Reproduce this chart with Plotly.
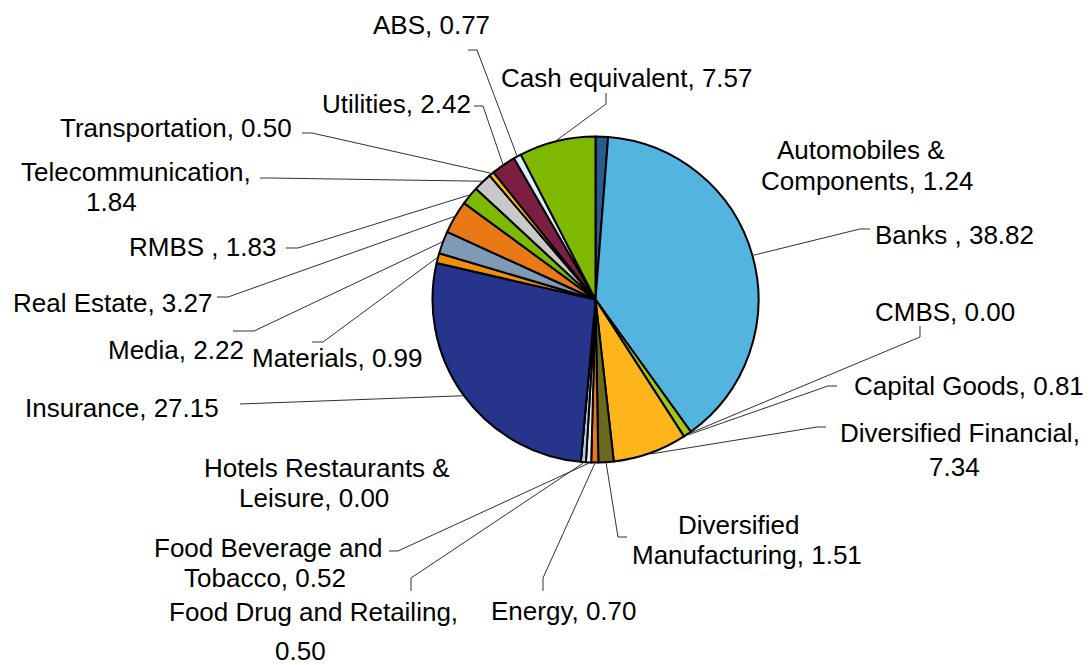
import math
import plotly.graph_objects as go

# ---------------- data ----------------
categories = [
    "Automobiles & Components", "Banks ", "CMBS", "Capital Goods",
    "Diversified Financial", "Diversified Manufacturing", "Energy",
    "Food Beverage and Tobacco", "Food Drug and Retailing",
    "Hotels Restaurants & Leisure", "Insurance", "Materials", "Media",
    "Real Estate", "RMBS ", "Telecommunication", "Transportation",
    "Utilities", "ABS", "Cash equivalent",
]
values = [1.24, 38.82, 0.00, 0.81, 7.34, 1.51, 0.70, 0.52, 0.50, 0.00,
          27.15, 0.99, 2.22, 3.27, 1.83, 1.84, 0.50, 2.42, 0.77, 7.57]

# ---------------- styling / layout ----------------
W, H = 1092, 665
CX, CY, R = 595.5, 299.5, 163.0
FONT = "Liberation Sans, Arial, sans-serif"
FS = 26

colors = ["#2A5B8E", "#52B4DF", "#A0A0A0", "#A3C614", "#FDB51B", "#6A6A1C",
          "#E8771B", "#EDEDED", "#A8D0E8", "#CCCCCC", "#27348B", "#F0900A",
          "#7F9AB4", "#E97817", "#7CB900", "#C9C9C9", "#FFC000", "#7B1E42",
          "#DDEEFA", "#7FB800"]

# words on the first line of a wrapped label (None = single line)
label_wrap = [2, None, None, None, 2, 1, None, 3, 4, 3,
              None, None, None, None, None, 1, None, None, None, None]
# centre of each text line (pixels)
label_pos = [
    [(861, 150), (867, 181)],
    [(954, 235)],
    [(945, 312)],
    [(969, 386)],
    [(960, 433), (954, 467)],
    [(738, 524.5), (747, 554.5)],
    [(564, 611)],
    [(268, 547.5), (265, 577.5)],
    [(313, 612), (300, 651)],
    [(327, 467.5), (314, 497.5)],
    [(122, 408)],
    [(337, 358)],
    [(176, 350)],
    [(113, 303)],
    [(202, 247)],
    [(136, 171.5), (111, 201.5)],
    [(176, 128)],
    [(396, 104)],
    [(431, 25)],
    [(627, 78)],
]
# leader line bends after leaving the slice (pixels); None = no leader
leader_bends = [
    None,
    [(860, 229), (870, 229)],
    [(920, 337), (920, 326)],
    [(828, 386), (837, 386)],
    [(817, 427), (826, 427)],
    [(618, 537), (627, 537)],
    [(543, 578), (543, 591)],
    [(398, 551), (389, 551)],
    [(411, 578), (411, 591)],
    None,
    [(240, 404)],
    [(323, 342), (312, 342)],
    [(254, 331), (233, 331)],
    [(228, 297), (217, 297)],
    [(298, 248), (286, 248)],
    [(270, 178), (260, 178)],
    [(312, 133), (302, 133)],
    [(483, 106), (474, 106)],
    [(477, 50), (468, 50)],
    [(606, 104), (606, 93)],
]


def px(x):
    return x / W


def py(y):
    return 1 - y / H


fig = go.Figure(go.Pie(
    labels=categories,
    values=values,
    sort=False,
    direction="clockwise",
    rotation=0,
    marker=dict(colors=colors, line=dict(color="#000000", width=2)),
    textinfo="none",
    hoverinfo="label+value",
    showlegend=False,
    domain=dict(x=[px(CX - R), px(CX + R)], y=[py(CY + R), py(CY - R)]),
))

total = sum(values)
annotations = []
shapes = []
cum = 0.0
for name, v, wrap, pos, bends in zip(categories, values, label_wrap,
                                     label_pos, leader_bends):
    mid = (cum + v / 2) / total * 2 * math.pi
    cum += v
    text = f"{name}, {v:.2f}"
    words = text.split()
    lines = [text] if wrap is None else [" ".join(words[:wrap]),
                                         " ".join(words[wrap:])]
    for line, (lx, ly) in zip(lines, pos):
        annotations.append(dict(
            x=px(lx), y=py(ly), xref="paper", yref="paper",
            text=line, showarrow=False, xanchor="center", yanchor="middle",
            borderpad=0,
            font=dict(family=FONT, size=FS, color="#000000"),
        ))
    if bends:
        ex = CX + (R + 1) * math.sin(mid)
        ey = CY - (R + 1) * math.cos(mid)
        pts = [(ex, ey)] + list(bends)
        path = "M " + " L ".join(f"{px(a):.5f},{py(b):.5f}" for a, b in pts)
        shapes.append(dict(type="path", path=path, xref="paper", yref="paper",
                           line=dict(color="#303030", width=1)))

fig.update_layout(
    width=W, height=H,
    margin=dict(l=0, r=0, t=0, b=0),
    paper_bgcolor="#FFFFFF", plot_bgcolor="#FFFFFF",
    annotations=annotations, shapes=shapes,
    font=dict(family=FONT),
)

fig.write_html("out.html")
